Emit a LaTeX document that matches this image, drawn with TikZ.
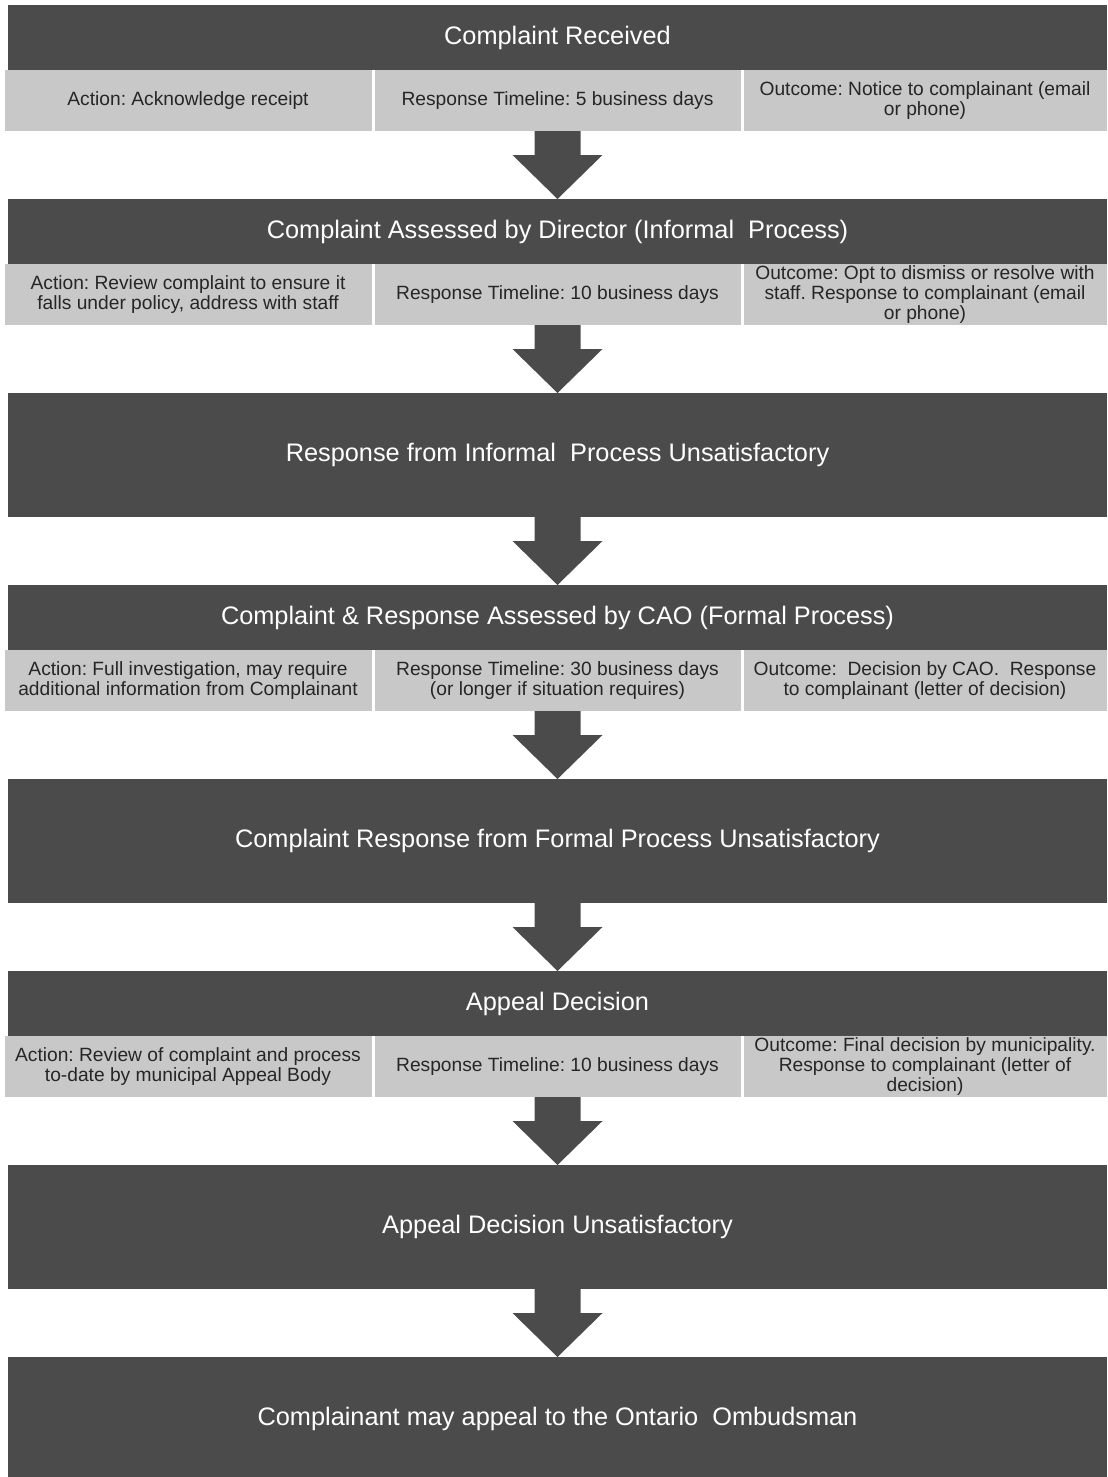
\documentclass[tikz,border=0pt]{standalone}
\usepackage{fontspec}
\setmainfont{Liberation Sans}
\usetikzlibrary{positioning, calc}
\definecolor{darkgrey}{HTML}{4B4B4B}
\definecolor{lightgrey}{HTML}{C8C8C8}
\frenchspacing

\begin{document}
\begin{tikzpicture}[
    x=0.75pt, y=-0.75pt,
    node distance=51pt, % gap between stages
    every node/.style={outer sep=0pt},
    % Styles for nodes
    header/.style={fill=darkgrey, rectangle, minimum height=48.75pt, minimum width=824.25pt, inner sep=0pt, align=center, text=white, font=\fontsize{19}{22}\selectfont},
    bigbox/.style={header, minimum height=93pt},
    cell/.style={fill=lightgrey, rectangle, minimum height=45.75pt, minimum width=274.5pt, inner sep=0pt, align=center, text=black!85, font=\fontsize{14.4}{15}\selectfont},
    blockarrow/.style={fill=darkgrey}
]
    \useasboundingbox (0,0) rectangle (1107,1477);

    % Stage 1: complaint received
    \node (recv) [header, anchor=north west] at (8,5) {Complaint Received};
    \node (recvtime) [cell, below=0pt of recv] {Response Timeline: 5 business days};
    \node (recvact) [cell, minimum width=275.25pt, left=2.25pt of recvtime] {Action: Acknowledge receipt};
    \node (recvout) [cell, minimum width=272.25pt, right=2.25pt of recvtime] {Outcome: Notice to complainant (email\\or phone)};

    % Stage 2: informal process
    \node (informal) [header, below=51pt of recvtime] {Complaint Assessed by Director (Informal\ \ Process)};
    \node (informaltime) [cell, below=0pt of informal] {Response Timeline: 10 business days};
    \node (informalact) [cell, minimum width=275.25pt, left=2.25pt of informaltime] {Action: Review complaint to ensure it\\falls under policy, address with staff};
    \node (informalout) [cell, minimum width=272.25pt, right=2.25pt of informaltime] {Outcome: Opt to dismiss or resolve with\\staff. Response to complainant (email\\or phone)};

    % Stage 3
    \node (informalno) [bigbox, below=51pt of informaltime] {Response from Informal\ \ Process Unsatisfactory};

    % Stage 4: formal process
    \node (formal) [header, below=51pt of informalno] {Complaint \& Response Assessed by CAO (Formal Process)};
    \node (formaltime) [cell, below=0pt of formal] {Response Timeline: 30 business days\\(or longer if situation requires)};
    \node (formalact) [cell, minimum width=275.25pt, left=2.25pt of formaltime] {Action: Full investigation, may require\\additional information from Complainant};
    \node (formalout) [cell, minimum width=272.25pt, right=2.25pt of formaltime] {Outcome:\ \ Decision by CAO.\ \ Response\\to complainant (letter of decision)};

    % Stage 5
    \node (formalno) [bigbox, below=51pt of formaltime] {Complaint Response from Formal Process Unsatisfactory};

    % Stage 6: appeal
    \node (appeal) [header, below=51pt of formalno] {Appeal Decision};
    \node (appealtime) [cell, below=0pt of appeal] {Response Timeline: 10 business days};
    \node (appealact) [cell, minimum width=275.25pt, left=2.25pt of appealtime] {Action: Review of complaint and process\\to-date by municipal Appeal Body};
    \node (appealout) [cell, minimum width=272.25pt, right=2.25pt of appealtime] {Outcome: Final decision by municipality.\\Response to complainant (letter of\\decision)};

    % Stage 7 and 8 (last box runs past the page edge)
    \node (appealno) [bigbox, below=51pt of appealtime] {Appeal Decision Unsatisfactory};
    \node (ombud) [bigbox, below=51pt of appealno] {Complainant may appeal to the Ontario\ \ Ombudsman};

    % Block arrows between stages
    \fill[blockarrow] ($(recvtime.south)+(-23,0)$) |- ($(informal.north)+(-45,-44)$) -- (informal.north) -- ($(informal.north)+(45,-44)$) -| ($(recvtime.south)+(23,0)$) -- cycle;
    \fill[blockarrow] ($(informaltime.south)+(-23,0)$) |- ($(informalno.north)+(-45,-44)$) -- (informalno.north) -- ($(informalno.north)+(45,-44)$) -| ($(informaltime.south)+(23,0)$) -- cycle;
    \fill[blockarrow] ($(informalno.south)+(-23,0)$) |- ($(formal.north)+(-45,-44)$) -- (formal.north) -- ($(formal.north)+(45,-44)$) -| ($(informalno.south)+(23,0)$) -- cycle;
    \fill[blockarrow] ($(formaltime.south)+(-23,0)$) |- ($(formalno.north)+(-45,-44)$) -- (formalno.north) -- ($(formalno.north)+(45,-44)$) -| ($(formaltime.south)+(23,0)$) -- cycle;
    \fill[blockarrow] ($(formalno.south)+(-23,0)$) |- ($(appeal.north)+(-45,-44)$) -- (appeal.north) -- ($(appeal.north)+(45,-44)$) -| ($(formalno.south)+(23,0)$) -- cycle;
    \fill[blockarrow] ($(appealtime.south)+(-23,0)$) |- ($(appealno.north)+(-45,-44)$) -- (appealno.north) -- ($(appealno.north)+(45,-44)$) -| ($(appealtime.south)+(23,0)$) -- cycle;
    \fill[blockarrow] ($(appealno.south)+(-23,0)$) |- ($(ombud.north)+(-45,-44)$) -- (ombud.north) -- ($(ombud.north)+(45,-44)$) -| ($(appealno.south)+(23,0)$) -- cycle;

\end{tikzpicture}
\end{document}
